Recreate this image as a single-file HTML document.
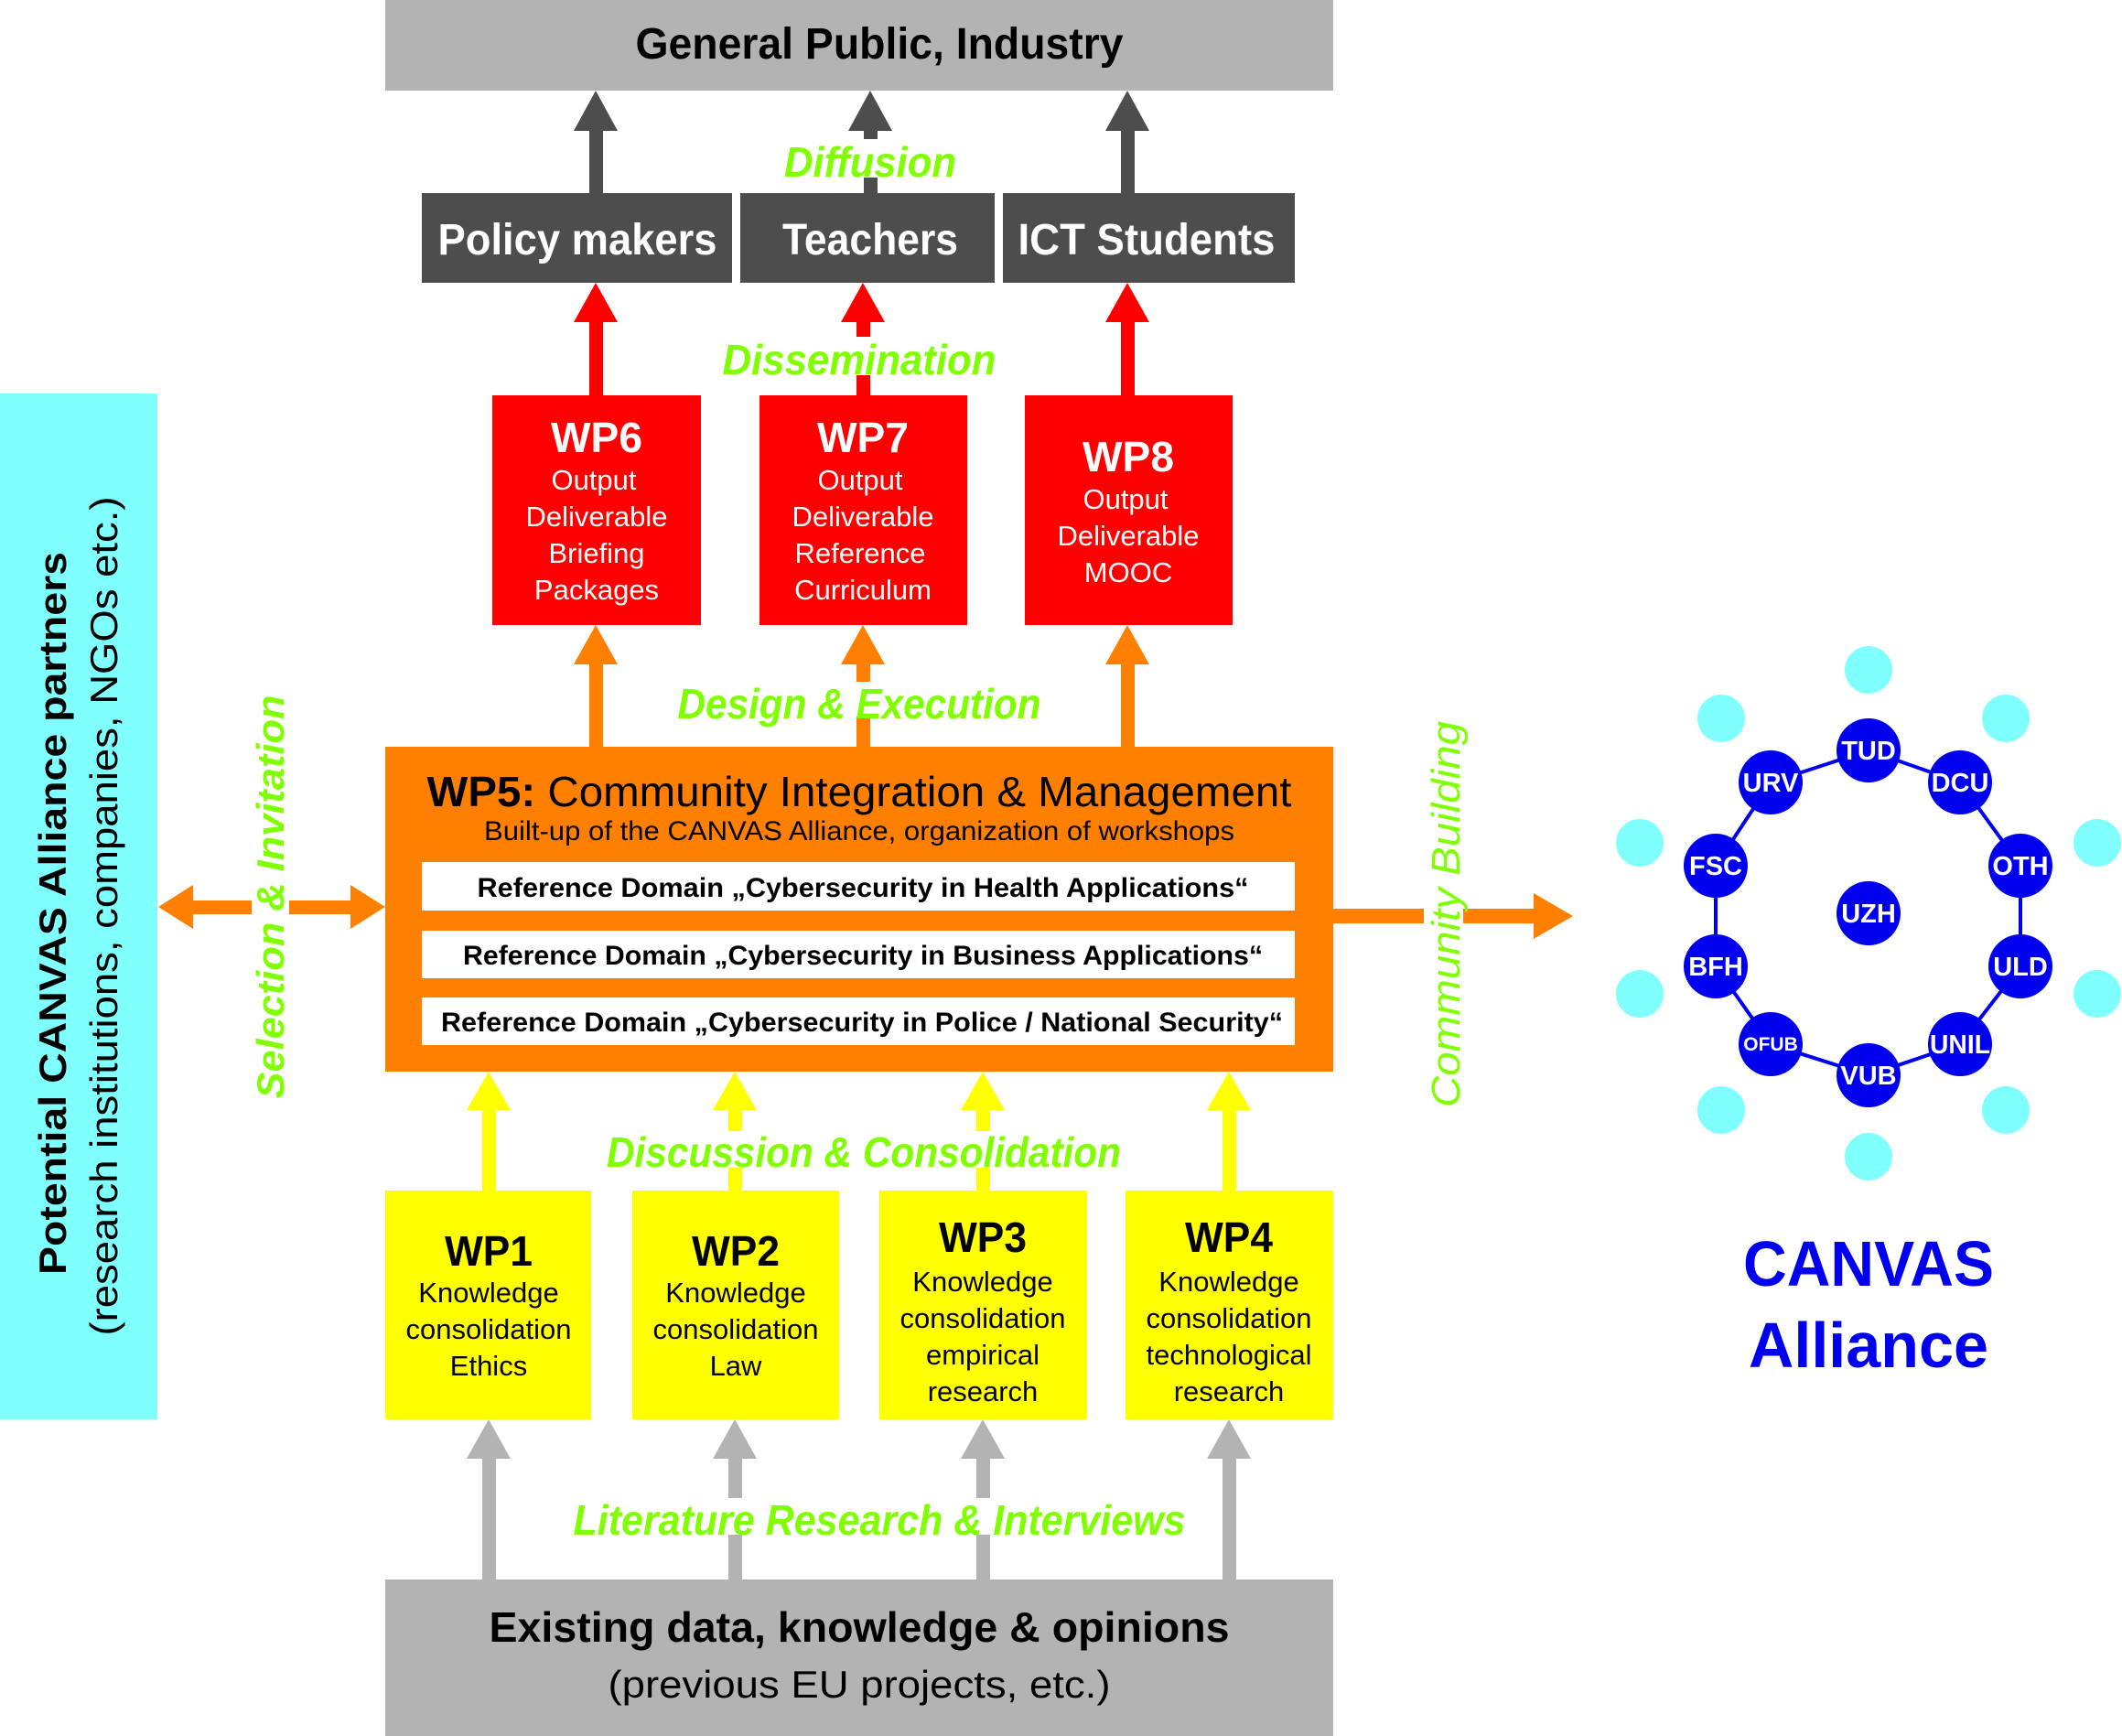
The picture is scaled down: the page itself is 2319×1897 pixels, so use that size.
<!DOCTYPE html>
<html><head><meta charset="utf-8"><style>html,body{margin:0;padding:0;background:#fff}svg{display:block}</style></head>
<body>
<svg width="2319" height="1897" viewBox="0 0 2319 1897" xmlns="http://www.w3.org/2000/svg" font-family="'Liberation Sans', sans-serif">
<defs></defs>
<!-- top gray -->
<rect x="421" y="0" width="1036" height="99" fill="#b3b3b3"/>
<text x="961" y="64" text-anchor="middle" font-weight="bold" font-size="48" textLength="533" lengthAdjust="spacingAndGlyphs" fill="#000">General Public, Industry</text>
<!-- dark arrows -->
<g fill="#4d4d4d">
<rect x="644" y="140" width="15" height="75"/><polygon points="651,99 627,143 675,143"/>
<rect x="944" y="140" width="15" height="75"/><polygon points="951,99 927,143 975,143"/>
<rect x="1225" y="140" width="15" height="75"/><polygon points="1232,99 1208,143 1256,143"/>
<rect x="461" y="211" width="339" height="98"/>
<rect x="809" y="211" width="278" height="98"/>
<rect x="1096" y="211" width="319" height="98"/>
</g>
<rect x="930" y="152" width="44" height="42" fill="#fff"/>
<text x="951" y="193" text-anchor="middle" font-weight="bold" font-style="italic" font-size="46" textLength="188" lengthAdjust="spacingAndGlyphs" fill="#80ff00">Diffusion</text>
<g fill="#fff" font-weight="bold" font-size="48" text-anchor="middle">
<text x="631" y="278" textLength="305" lengthAdjust="spacingAndGlyphs">Policy makers</text>
<text x="951" y="278" textLength="192" lengthAdjust="spacingAndGlyphs">Teachers</text>
<text x="1253" y="278" textLength="281" lengthAdjust="spacingAndGlyphs">ICT Students</text>
</g>
<!-- red arrows -->
<g fill="#ff0000">
<rect x="644" y="345" width="15" height="90"/><polygon points="651,309 627,352 675,352"/>
<rect x="936" y="345" width="15" height="90"/><polygon points="943,309 919,352 967,352"/>
<rect x="1225" y="345" width="15" height="90"/><polygon points="1232,309 1208,352 1256,352"/>
<rect x="538" y="432" width="228" height="251"/>
<rect x="830" y="432" width="227" height="251"/>
<rect x="1120" y="432" width="227" height="251"/>
</g>
<rect x="900" y="368" width="80" height="42" fill="#fff"/>
<text x="939" y="409" text-anchor="middle" font-weight="bold" font-style="italic" font-size="46" textLength="299" lengthAdjust="spacingAndGlyphs" fill="#80ff00">Dissemination</text>
<g fill="#fff" text-anchor="middle" font-size="31">
<text x="652" y="494" font-weight="bold" font-size="46" textLength="100" lengthAdjust="spacingAndGlyphs">WP6</text>
<text x="649" y="535">Output</text><text x="652" y="575">Deliverable</text><text x="652" y="615">Briefing</text><text x="652" y="655">Packages</text>
<text x="943" y="494" font-weight="bold" font-size="46" textLength="100" lengthAdjust="spacingAndGlyphs">WP7</text>
<text x="940" y="535">Output</text><text x="943" y="575">Deliverable</text><text x="940" y="615">Reference</text><text x="943" y="655">Curriculum</text>
<text x="1233" y="515" font-weight="bold" font-size="46" textLength="100" lengthAdjust="spacingAndGlyphs">WP8</text>
<text x="1230" y="556">Output</text><text x="1233" y="596">Deliverable</text><text x="1233" y="636">MOOC</text>
</g>
<!-- orange arrows -->
<g fill="#ff8000">
<rect x="644" y="720" width="15" height="100"/><polygon points="651,683 627,726 675,726"/>
<rect x="936" y="720" width="15" height="100"/><polygon points="943,683 919,726 967,726"/>
<rect x="1225" y="720" width="15" height="100"/><polygon points="1232,683 1208,726 1256,726"/>
<rect x="421" y="816" width="1036" height="355"/>
</g>
<rect x="900" y="745" width="80" height="38" fill="#fff"/>
<text x="939" y="785" text-anchor="middle" font-weight="bold" font-style="italic" font-size="46" textLength="397" lengthAdjust="spacingAndGlyphs" fill="#80ff00">Design &amp; Execution</text>
<text x="939" y="881" text-anchor="middle" font-size="46" textLength="945" lengthAdjust="spacingAndGlyphs" fill="#000"><tspan font-weight="bold">WP5:</tspan> Community Integration &amp; Management</text>
<text x="939" y="918" text-anchor="middle" font-size="30" textLength="820" lengthAdjust="spacingAndGlyphs" fill="#000">Built-up of the CANVAS Alliance, organization of workshops</text>
<g fill="#fff"><rect x="461" y="942" width="954" height="53"/><rect x="461" y="1017" width="954" height="52"/><rect x="461" y="1090" width="954" height="52"/></g>
<g font-weight="bold" font-size="30" text-anchor="middle" fill="#000">
<text x="943" y="980" textLength="843" lengthAdjust="spacingAndGlyphs">Reference Domain „Cybersecurity in Health Applications“</text>
<text x="943" y="1054" textLength="874" lengthAdjust="spacingAndGlyphs">Reference Domain „Cybersecurity in Business Applications“</text>
<text x="942" y="1127" textLength="920" lengthAdjust="spacingAndGlyphs">Reference Domain „Cybersecurity in Police / National Security“</text>
</g>
<!-- yellow -->
<g fill="#ffff00">
<rect x="527" y="1205" width="15" height="100"/><polygon points="534,1171 510,1213 558,1213"/>
<rect x="796" y="1205" width="15" height="100"/><polygon points="803,1171 779,1213 827,1213"/>
<rect x="1067" y="1205" width="15" height="100"/><polygon points="1074,1171 1050,1213 1098,1213"/>
<rect x="1336" y="1205" width="15" height="100"/><polygon points="1343,1171 1319,1213 1367,1213"/>
<rect x="421" y="1301" width="225" height="250"/><rect x="691" y="1301" width="226" height="250"/>
<rect x="961" y="1301" width="227" height="250"/><rect x="1230" y="1301" width="227" height="250"/>
</g>
<rect x="780" y="1236" width="310" height="40" fill="#fff"/>
<text x="944" y="1275" text-anchor="middle" font-weight="bold" font-style="italic" font-size="46" textLength="562" lengthAdjust="spacingAndGlyphs" fill="#80ff00">Discussion &amp; Consolidation</text>
<g fill="#000" text-anchor="middle" font-size="31">
<text x="534" y="1383" font-weight="bold" font-size="46" textLength="96" lengthAdjust="spacingAndGlyphs">WP1</text>
<text x="534" y="1423">Knowledge</text><text x="534" y="1463">consolidation</text><text x="534" y="1503">Ethics</text>
<text x="804" y="1383" font-weight="bold" font-size="46" textLength="96" lengthAdjust="spacingAndGlyphs">WP2</text>
<text x="804" y="1423">Knowledge</text><text x="804" y="1463">consolidation</text><text x="804" y="1503">Law</text>
<text x="1074" y="1368" font-weight="bold" font-size="46" textLength="96" lengthAdjust="spacingAndGlyphs">WP3</text>
<text x="1074" y="1411">Knowledge</text><text x="1074" y="1451">consolidation</text><text x="1074" y="1491">empirical</text><text x="1074" y="1531">research</text>
<text x="1343" y="1368" font-weight="bold" font-size="46" textLength="96" lengthAdjust="spacingAndGlyphs">WP4</text>
<text x="1343" y="1411">Knowledge</text><text x="1343" y="1451">consolidation</text><text x="1343" y="1491">technological</text><text x="1343" y="1531">research</text>
</g>
<!-- gray bottom arrows -->
<g fill="#b3b3b3">
<rect x="527" y="1590" width="15" height="140"/><polygon points="534,1551 510,1594 558,1594"/>
<rect x="796" y="1590" width="15" height="140"/><polygon points="803,1551 779,1594 827,1594"/>
<rect x="1067" y="1590" width="15" height="140"/><polygon points="1074,1551 1050,1594 1098,1594"/>
<rect x="1336" y="1590" width="15" height="140"/><polygon points="1343,1551 1319,1594 1367,1594"/>
<rect x="421" y="1726" width="1036" height="171"/>
</g>
<rect x="780" y="1637" width="310" height="40" fill="#fff"/>
<text x="961" y="1677" text-anchor="middle" font-weight="bold" font-style="italic" font-size="46" textLength="669" lengthAdjust="spacingAndGlyphs" fill="#80ff00">Literature Research &amp; Interviews</text>
<text x="939" y="1794" text-anchor="middle" font-weight="bold" font-size="46" textLength="809" lengthAdjust="spacingAndGlyphs" fill="#000">Existing data, knowledge &amp; opinions</text>
<text x="939" y="1855" text-anchor="middle" font-size="42" textLength="549" lengthAdjust="spacingAndGlyphs" fill="#000">(previous EU projects, etc.)</text>
<!-- cyan left -->
<rect x="0" y="430" width="172" height="1121" fill="#80ffff"/>
<text transform="translate(72,998) rotate(-90)" text-anchor="middle" font-weight="bold" font-size="42" textLength="790" lengthAdjust="spacingAndGlyphs" fill="#000">Potential CANVAS Alliance partners</text>
<text transform="translate(128,1001) rotate(-90)" text-anchor="middle" font-size="42" textLength="917" lengthAdjust="spacingAndGlyphs" fill="#000">(research institutions, companies, NGOs etc.)</text>
<!-- double arrow -->
<g fill="#ff8000">
<rect x="200" y="984" width="75" height="15"/><rect x="316" y="984" width="75" height="15"/>
<polygon points="173,991 211,967 211,1015"/><polygon points="421,991 383,967 383,1015"/>
</g>
<text transform="translate(310,980) rotate(-90)" text-anchor="middle" font-weight="bold" font-style="italic" font-size="42" textLength="441" lengthAdjust="spacingAndGlyphs" fill="#80ff00">Selection &amp; Invitation</text>
<!-- right arrow -->
<g fill="#ff8000">
<rect x="1457" y="993" width="99" height="16"/><rect x="1599" y="993" width="80" height="16"/>
<polygon points="1719,1001 1676,976 1676,1026"/>
</g>
<text transform="translate(1595,999) rotate(-90)" text-anchor="middle" font-style="italic" font-size="44" textLength="422" lengthAdjust="spacingAndGlyphs" fill="#80ff00">Community Building</text>
<!-- network -->
<g fill="#80ffff">
<circle cx="2042" cy="732" r="26"/><circle cx="2192" cy="785" r="26"/><circle cx="2292" cy="921" r="26"/><circle cx="2292" cy="1086" r="26"/><circle cx="2192" cy="1213" r="26"/><circle cx="2042" cy="1264" r="26"/><circle cx="1881" cy="1213" r="26"/><circle cx="1792" cy="1086" r="26"/><circle cx="1792" cy="921" r="26"/><circle cx="1881" cy="785" r="26"/>
</g>
<polygon points="2042,820 2142,855 2208,946 2208,1056 2142,1141 2042,1175 1935,1141 1875,1056 1875,946 1935,855" fill="none" stroke="#0000ee" stroke-width="4"/>
<g fill="#0000ee">
<circle cx="2042" cy="820" r="35"/><circle cx="2142" cy="855" r="35"/><circle cx="2208" cy="946" r="35"/><circle cx="2208" cy="1056" r="35"/><circle cx="2142" cy="1141" r="35"/><circle cx="2042" cy="1175" r="35"/><circle cx="1935" cy="1141" r="35"/><circle cx="1875" cy="1056" r="35"/><circle cx="1875" cy="946" r="35"/><circle cx="1935" cy="855" r="35"/><circle cx="2042" cy="998" r="35"/>
</g>
<g fill="#fff" font-weight="bold" font-size="29" text-anchor="middle">
<text x="2042" y="830">TUD</text><text x="2142" y="865">DCU</text><text x="2208" y="956">OTH</text><text x="2208" y="1066">ULD</text>
<text x="2142" y="1151" textLength="66" lengthAdjust="spacingAndGlyphs">UNIL</text><text x="2042" y="1185">VUB</text>
<text x="1935" y="1148" font-size="21">OFUB</text><text x="1875" y="1066">BFH</text><text x="1875" y="956">FSC</text><text x="1935" y="865">URV</text><text x="2042" y="1008">UZH</text>
</g>
<text x="2042" y="1405" text-anchor="middle" font-weight="bold" font-size="70" textLength="274" lengthAdjust="spacingAndGlyphs" fill="#0000ee">CANVAS</text>
<text x="2042" y="1494" text-anchor="middle" font-weight="bold" font-size="70" textLength="262" lengthAdjust="spacingAndGlyphs" fill="#0000ee">Alliance</text>
</svg>
</body></html>
